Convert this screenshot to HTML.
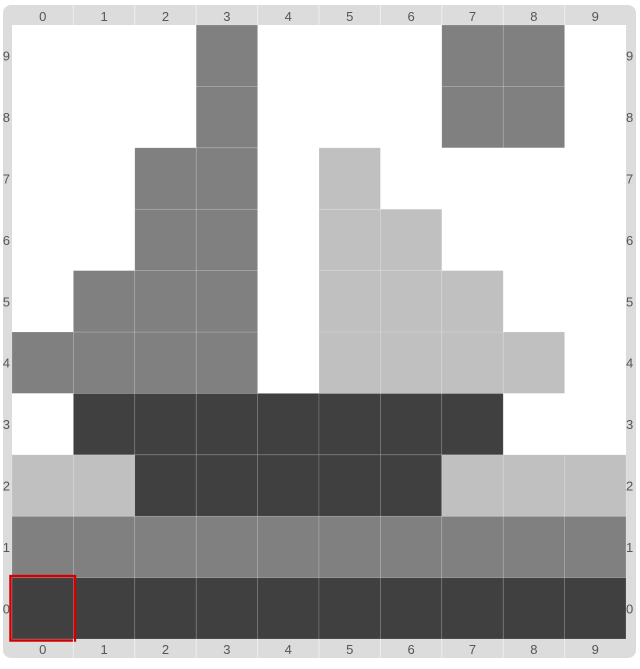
<!DOCTYPE html>
<html><head><meta charset="utf-8"><style>
body{margin:0;background:#fff;font-family:"Liberation Sans",sans-serif;}
</style></head><body>
<svg id="chart" width="640" height="664" xmlns="http://www.w3.org/2000/svg">
<rect x="3" y="5" width="633" height="653" rx="8" fill="#dcdcdc"/>
<rect x="12" y="25" width="614" height="614" fill="#fff"/>
<g id="cells"></g><g id="labels"></g>
</svg>
<script>
const xCategories=[0,1,2,3,4,5,6,7,8,9];
const yCategories=[0,1,2,3,4,5,6,7,8,9];
// rows from y=0 (bottom) to y=9 (top); 0 empty,1 light,2 mid,3 dark
const row0=[3,3,3,3,3,3,3,3,3,3];
const row1=[2,2,2,2,2,2,2,2,2,2];
const row2=[1,1,3,3,3,3,3,1,1,1];
const row3=[0,3,3,3,3,3,3,3,0,0];
const row4=[2,2,2,2,0,1,1,1,1,0];
const row5=[0,2,2,2,0,1,1,1,0,0];
const row6=[0,0,2,2,0,1,1,0,0,0];
const row7=[0,0,2,2,0,1,0,0,0,0];
const row8=[0,0,0,2,0,0,0,2,2,0];
const row9=[0,0,0,2,0,0,0,2,2,0];
const rows=[row0,row1,row2,row3,row4,row5,row6,row7,row8,row9];
const selected=[0,0];
const colors=['#ffffff','#c0c0c0','#808080','#404040'];
const L=12,T=25,W=614,H=614,cw=W/10,ch=H/10;
const xs=i=>L+i*cw, ys=j=>T+(9-j)*ch;
const NS='http://www.w3.org/2000/svg';
const cells=document.getElementById('cells'),labels=document.getElementById('labels');
rows.forEach((r,j)=>r.forEach((v,i)=>{
 if(!v)return;
 const e=document.createElementNS(NS,'rect');
 e.setAttribute('x',xs(i));e.setAttribute('y',ys(j));e.setAttribute('width',cw);e.setAttribute('height',ch);
 e.setAttribute('fill',colors[v]);e.setAttribute('stroke','rgba(255,255,255,0.25)');e.setAttribute('stroke-width','0.6');
 
 
 cells.appendChild(e);
}));
const s=document.createElementNS(NS,'rect');
s.setAttribute('x',xs(selected[0])-1.5);s.setAttribute('y',ys(selected[1])-1.5);s.setAttribute('width',cw+3);s.setAttribute('height',ch+3);
s.setAttribute('fill','none');s.setAttribute('stroke','#d00000');s.setAttribute('stroke-width','2.5');


cells.appendChild(s);
function txt(x,y,t,anchor,name){const e=document.createElementNS(NS,'text');e.setAttribute('x',x);e.setAttribute('y',y);e.setAttribute('text-anchor',anchor);e.setAttribute('font-size','13');e.setAttribute('fill','#555');e.textContent=t;


labels.appendChild(e);}
function vline(x,y1,y2){const e=document.createElementNS(NS,'line');e.setAttribute('x1',x);e.setAttribute('x2',x);e.setAttribute('y1',y1);e.setAttribute('y2',y2);e.setAttribute('stroke','#eee');e.setAttribute('stroke-width','1');labels.appendChild(e);}
xCategories.forEach((c,i)=>{
 const cx=xs(i)+cw/2;
 txt(cx,21,String(c),'middle','x-label-top-'+c);
 txt(cx,654,String(c),'middle','x-label-bottom-'+c);
 if(i>0){vline(xs(i),5,25);vline(xs(i),639,658);}
});
yCategories.forEach((c,j)=>{
 const cy=ys(j)+ch/2+5;
 txt(10,cy,String(c),'end','y-label-left-'+c);
 txt(626,cy,String(c),'start','y-label-right-'+c);
});
</script>
</body></html>
